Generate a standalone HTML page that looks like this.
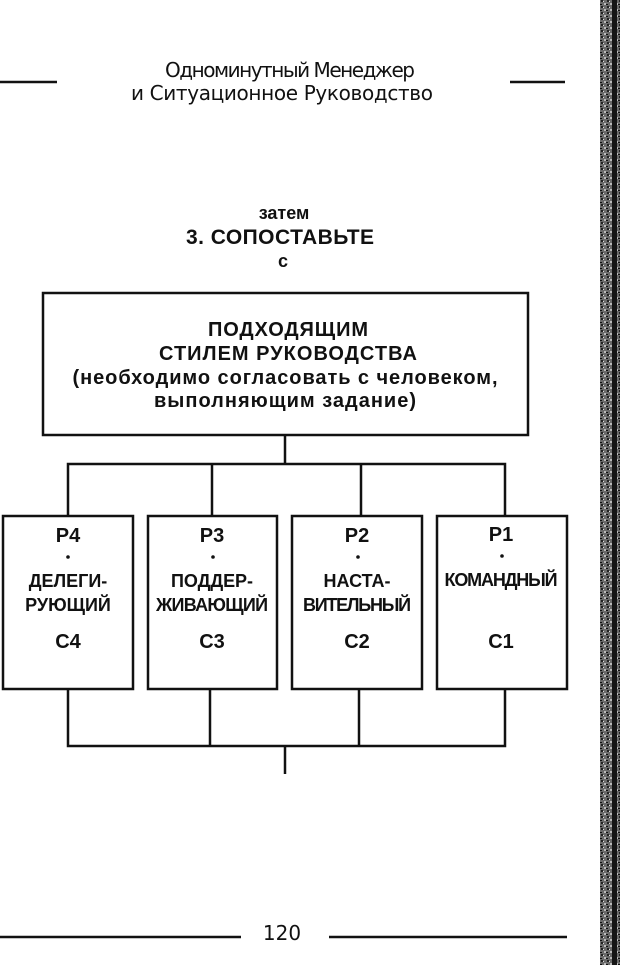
<!DOCTYPE html>
<html><head><meta charset="utf-8"><style>
html,body{margin:0;padding:0;background:#fff;}
svg{display:block;}
text{font-family:"Liberation Sans",sans-serif;fill:#111;}
</style></head><body>
<svg width="620" height="965" viewBox="0 0 620 965" xmlns="http://www.w3.org/2000/svg">
<defs>
<pattern id="n" width="6" height="6" patternUnits="userSpaceOnUse">
<rect width="6" height="6" fill="#6a6a6a"/>
<rect x="1" y="0" width="2" height="2" fill="#222"/>
<rect x="4" y="3" width="2" height="2" fill="#bbb"/>
<rect x="0" y="4" width="2" height="1" fill="#111"/>
<rect x="3" y="1" width="1" height="1" fill="#ddd"/>
</pattern>
</defs>
<rect x="600" y="0" width="20" height="965" fill="url(#n)"/>
<rect x="612" y="0" width="5" height="965" fill="#151515"/>

<g stroke="#111" stroke-width="2.5">
<line x1="0" y1="82" x2="57" y2="82"/>
<line x1="510" y1="82" x2="565" y2="82"/>
<line x1="0" y1="937" x2="241" y2="937"/>
<line x1="329" y1="937" x2="567" y2="937"/>
</g>
<text x="290" y="77" font-size="20" text-anchor="middle" textLength="250" style="font-family:'DejaVu Sans','Liberation Sans',sans-serif">Одноминутный Менеджер</text>
<text x="282" y="100" font-size="20" text-anchor="middle" textLength="302" style="font-family:'DejaVu Sans','Liberation Sans',sans-serif">и Ситуационное Руководство</text>

<text x="284" y="219" font-size="18" text-anchor="middle" font-weight="bold">затем</text>
<text x="280" y="244" font-size="21" text-anchor="middle" font-weight="bold" textLength="188">3. СОПОСТАВЬТЕ</text>
<text x="283" y="267" font-size="18" text-anchor="middle" font-weight="bold">с</text>

<g fill="none" stroke="#111" stroke-width="2.5">
<rect x="43" y="293" width="485" height="142"/>
<line x1="285" y1="435" x2="285" y2="464"/>
<polyline points="68,516 68,464 505,464 505,516"/>
<line x1="212" y1="464" x2="212" y2="516"/>
<line x1="361" y1="464" x2="361" y2="516"/>
<rect x="3" y="516" width="130" height="173"/>
<rect x="148" y="516" width="129" height="173"/>
<rect x="292" y="516" width="130" height="173"/>
<rect x="437" y="516" width="130" height="173"/>
<polyline points="68,689 68,746 505,746 505,689"/>
<line x1="210" y1="689" x2="210" y2="746"/>
<line x1="359" y1="689" x2="359" y2="746"/>
<line x1="285" y1="746" x2="285" y2="774"/>
</g>

<g font-size="20" text-anchor="middle" font-weight="bold">
<text x="288" y="336" textLength="160">ПОДХОДЯЩИМ</text>
<text x="288" y="360" textLength="258">СТИЛЕМ РУКОВОДСТВА</text>
<text x="285" y="384" textLength="425">(необходимо согласовать с человеком,</text>
<text x="285" y="407" textLength="262">выполняющим задание)</text>
</g>
<g fill="#111">
<circle cx="68" cy="557" r="1.8"/><circle cx="213" cy="557" r="1.8"/><circle cx="358" cy="557" r="1.8"/><circle cx="502" cy="556" r="1.8"/>
</g>
<g font-size="18" text-anchor="middle" font-weight="bold">
<text x="68" y="542" font-size="20">Р4</text>
<text x="68" y="587">ДЕЛЕГИ-</text><text x="68" y="611">РУЮЩИЙ</text><text x="68" y="648" font-size="20">С4</text>
<text x="212" y="542" font-size="20">Р3</text>
<text x="212" y="587" textLength="82">ПОДДЕР-</text><text x="212" y="611" textLength="112">ЖИВАЮЩИЙ</text><text x="212" y="648" font-size="20">С3</text>
<text x="357" y="542" font-size="20">Р2</text>
<text x="357" y="587">НАСТА-</text><text x="357" y="611" textLength="108">ВИТЕЛЬНЫЙ</text><text x="357" y="648" font-size="20">С2</text>
<text x="501" y="541" font-size="20">Р1</text>
<text x="501" y="586" textLength="113">КОМАНДНЫЙ</text><text x="501" y="648" font-size="20">С1</text>
</g>

<text x="282" y="940" font-size="20" text-anchor="middle" style="font-family:'DejaVu Sans','Liberation Sans',sans-serif">120</text>
</svg>
</body></html>
